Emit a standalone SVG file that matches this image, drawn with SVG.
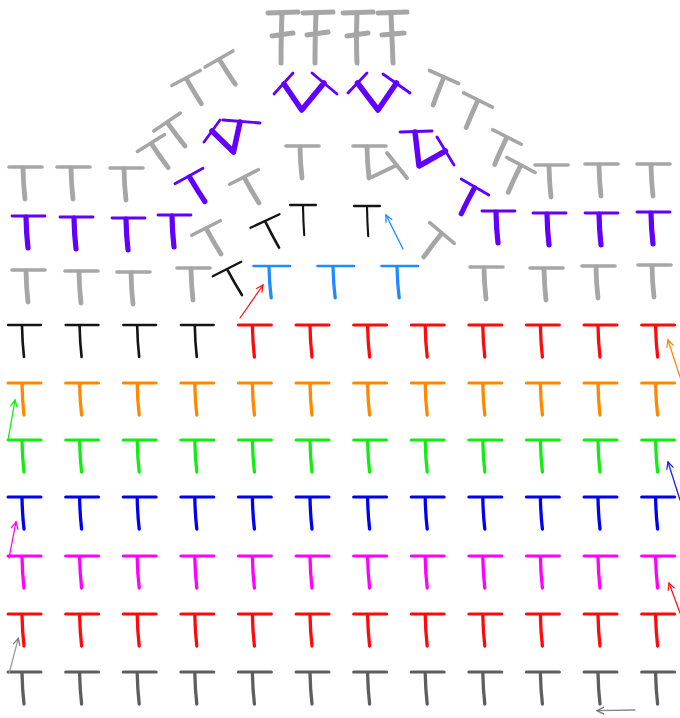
<svg xmlns="http://www.w3.org/2000/svg" xmlns:xlink="http://www.w3.org/1999/xlink" width="680" height="718" viewBox="0 0 680 718">
<style>
.b{fill:none;stroke-linecap:round;stroke-width:var(--bw,3)}
.s{fill:none;stroke-linecap:round;stroke-width:var(--sw,3.5)}
.dg{stroke:#5e5e5e;--bw:3;--sw:3.3}
.rd{stroke:#ff0a0a;--bw:3;--sw:3.3}
.mg{stroke:#ff00ff;--bw:3;--sw:3.3}
.bl{stroke:#0000f2;--bw:3;--sw:3.3}
.gr{stroke:#10ee10;--bw:3;--sw:3.3}
.or{stroke:#ff8800;--bw:3;--sw:3.3}
.bk{stroke:#141414;--bw:2.3;--sw:2.6}
.lg{stroke:#a6a6a6;--bw:3.6;--sw:4.8}
.lb{stroke:#1e8cff;--bw:2.6;--sw:3}
.pu{stroke:#6200ff;--bw:2.8;--sw:5.2}
.pb{fill:none;stroke:#6200ff;stroke-width:2.8;stroke-linecap:round}
.ps{fill:none;stroke:#6200ff;stroke-width:5.5;stroke-linecap:round;stroke-linejoin:round}
.gf{fill:none;stroke:#a6a6a6;stroke-width:5;stroke-linecap:round}
.ar{fill:none;stroke-width:1.3;stroke-linecap:round}
</style>
<defs>
<g id="T"><path class="b" d="M-14,0 L19,0"/><path class="s" d="M0,1 Q0.3,17 2,32"/></g>
<g id="S"><path class="b" d="M-16,0 L16,0"/><path class="s" d="M0,1 Q0.3,16 1.5,30"/></g>
<marker id="m-dg" markerWidth="12" markerHeight="12" refX="0" refY="0" viewBox="-9 -6 12 12" orient="auto" markerUnits="userSpaceOnUse"><path d="M-7,-3.5 L0,0 L-7,3.5" fill="none" stroke="#777" stroke-width="1.3"/></marker>
<marker id="m-rd" markerWidth="12" markerHeight="12" refX="0" refY="0" viewBox="-9 -6 12 12" orient="auto" markerUnits="userSpaceOnUse"><path d="M-7,-3.5 L0,0 L-7,3.5" fill="none" stroke="#ff1a1a" stroke-width="1.3"/></marker>
<marker id="m-mg" markerWidth="12" markerHeight="12" refX="0" refY="0" viewBox="-9 -6 12 12" orient="auto" markerUnits="userSpaceOnUse"><path d="M-7,-3.5 L0,0 L-7,3.5" fill="none" stroke="#ff00ff" stroke-width="1.3"/></marker>
<marker id="m-bl" markerWidth="12" markerHeight="12" refX="0" refY="0" viewBox="-9 -6 12 12" orient="auto" markerUnits="userSpaceOnUse"><path d="M-7,-3.5 L0,0 L-7,3.5" fill="none" stroke="#2020f0" stroke-width="1.3"/></marker>
<marker id="m-gr" markerWidth="12" markerHeight="12" refX="0" refY="0" viewBox="-9 -6 12 12" orient="auto" markerUnits="userSpaceOnUse"><path d="M-7,-3.5 L0,0 L-7,3.5" fill="none" stroke="#10ee10" stroke-width="1.3"/></marker>
<marker id="m-or" markerWidth="12" markerHeight="12" refX="0" refY="0" viewBox="-9 -6 12 12" orient="auto" markerUnits="userSpaceOnUse"><path d="M-7,-3.5 L0,0 L-7,3.5" fill="none" stroke="#ff8800" stroke-width="1.3"/></marker>
<marker id="m-lb" markerWidth="12" markerHeight="12" refX="0" refY="0" viewBox="-9 -6 12 12" orient="auto" markerUnits="userSpaceOnUse"><path d="M-7,-3.5 L0,0 L-7,3.5" fill="none" stroke="#1e8cff" stroke-width="1.3"/></marker>
</defs>
<rect width="680" height="718" fill="#fff"/>

<g id="row1">
<g id="r1c0"><use href="#T" class="dg" x="22" y="672"/></g>
<g id="r1c1"><use href="#T" class="dg" x="79.6" y="672"/></g>
<g id="r1c2"><use href="#T" class="dg" x="137.2" y="672"/></g>
<g id="r1c3"><use href="#T" class="dg" x="194.8" y="672"/></g>
<g id="r1c4"><use href="#T" class="dg" x="252.4" y="672"/></g>
<g id="r1c5"><use href="#T" class="dg" x="310" y="672"/></g>
<g id="r1c6"><use href="#T" class="dg" x="367.6" y="672"/></g>
<g id="r1c7"><use href="#T" class="dg" x="425.2" y="672"/></g>
<g id="r1c8"><use href="#T" class="dg" x="482.8" y="672"/></g>
<g id="r1c9"><use href="#T" class="dg" x="540.4" y="672"/></g>
<g id="r1c10"><use href="#T" class="dg" x="598" y="672"/></g>
<g id="r1c11"><use href="#T" class="dg" x="655.6" y="672"/></g>
</g>
<g id="row2">
<g id="r2c0"><use href="#T" class="rd" x="22" y="614"/></g>
<g id="r2c1"><use href="#T" class="rd" x="79.6" y="614"/></g>
<g id="r2c2"><use href="#T" class="rd" x="137.2" y="614"/></g>
<g id="r2c3"><use href="#T" class="rd" x="194.8" y="614"/></g>
<g id="r2c4"><use href="#T" class="rd" x="252.4" y="614"/></g>
<g id="r2c5"><use href="#T" class="rd" x="310" y="614"/></g>
<g id="r2c6"><use href="#T" class="rd" x="367.6" y="614"/></g>
<g id="r2c7"><use href="#T" class="rd" x="425.2" y="614"/></g>
<g id="r2c8"><use href="#T" class="rd" x="482.8" y="614"/></g>
<g id="r2c9"><use href="#T" class="rd" x="540.4" y="614"/></g>
<g id="r2c10"><use href="#T" class="rd" x="598" y="614"/></g>
<g id="r2c11"><use href="#T" class="rd" x="655.6" y="614"/></g>
</g>
<g id="row3">
<g id="r3c0"><use href="#T" class="mg" x="22" y="556"/></g>
<g id="r3c1"><use href="#T" class="mg" x="79.6" y="556"/></g>
<g id="r3c2"><use href="#T" class="mg" x="137.2" y="556"/></g>
<g id="r3c3"><use href="#T" class="mg" x="194.8" y="556"/></g>
<g id="r3c4"><use href="#T" class="mg" x="252.4" y="556"/></g>
<g id="r3c5"><use href="#T" class="mg" x="310" y="556"/></g>
<g id="r3c6"><use href="#T" class="mg" x="367.6" y="556"/></g>
<g id="r3c7"><use href="#T" class="mg" x="425.2" y="556"/></g>
<g id="r3c8"><use href="#T" class="mg" x="482.8" y="556"/></g>
<g id="r3c9"><use href="#T" class="mg" x="540.4" y="556"/></g>
<g id="r3c10"><use href="#T" class="mg" x="598" y="556"/></g>
<g id="r3c11"><use href="#T" class="mg" x="655.6" y="556"/></g>
</g>
<g id="row4">
<g id="r4c0"><use href="#T" class="bl" x="22" y="497"/></g>
<g id="r4c1"><use href="#T" class="bl" x="79.6" y="497"/></g>
<g id="r4c2"><use href="#T" class="bl" x="137.2" y="497"/></g>
<g id="r4c3"><use href="#T" class="bl" x="194.8" y="497"/></g>
<g id="r4c4"><use href="#T" class="bl" x="252.4" y="497"/></g>
<g id="r4c5"><use href="#T" class="bl" x="310" y="497"/></g>
<g id="r4c6"><use href="#T" class="bl" x="367.6" y="497"/></g>
<g id="r4c7"><use href="#T" class="bl" x="425.2" y="497"/></g>
<g id="r4c8"><use href="#T" class="bl" x="482.8" y="497"/></g>
<g id="r4c9"><use href="#T" class="bl" x="540.4" y="497"/></g>
<g id="r4c10"><use href="#T" class="bl" x="598" y="497"/></g>
<g id="r4c11"><use href="#T" class="bl" x="655.6" y="497"/></g>
</g>
<g id="row5">
<g id="r5c0"><use href="#T" class="gr" x="22" y="440"/></g>
<g id="r5c1"><use href="#T" class="gr" x="79.6" y="440"/></g>
<g id="r5c2"><use href="#T" class="gr" x="137.2" y="440"/></g>
<g id="r5c3"><use href="#T" class="gr" x="194.8" y="440"/></g>
<g id="r5c4"><use href="#T" class="gr" x="252.4" y="440"/></g>
<g id="r5c5"><use href="#T" class="gr" x="310" y="440"/></g>
<g id="r5c6"><use href="#T" class="gr" x="367.6" y="440"/></g>
<g id="r5c7"><use href="#T" class="gr" x="425.2" y="440"/></g>
<g id="r5c8"><use href="#T" class="gr" x="482.8" y="440"/></g>
<g id="r5c9"><use href="#T" class="gr" x="540.4" y="440"/></g>
<g id="r5c10"><use href="#T" class="gr" x="598" y="440"/></g>
<g id="r5c11"><use href="#T" class="gr" x="655.6" y="440"/></g>
</g>
<g id="row6">
<g id="r6c0"><use href="#T" class="or" x="22" y="383"/></g>
<g id="r6c1"><use href="#T" class="or" x="79.6" y="383"/></g>
<g id="r6c2"><use href="#T" class="or" x="137.2" y="383"/></g>
<g id="r6c3"><use href="#T" class="or" x="194.8" y="383"/></g>
<g id="r6c4"><use href="#T" class="or" x="252.4" y="383"/></g>
<g id="r6c5"><use href="#T" class="or" x="310" y="383"/></g>
<g id="r6c6"><use href="#T" class="or" x="367.6" y="383"/></g>
<g id="r6c7"><use href="#T" class="or" x="425.2" y="383"/></g>
<g id="r6c8"><use href="#T" class="or" x="482.8" y="383"/></g>
<g id="r6c9"><use href="#T" class="or" x="540.4" y="383"/></g>
<g id="r6c10"><use href="#T" class="or" x="598" y="383"/></g>
<g id="r6c11"><use href="#T" class="or" x="655.6" y="383"/></g>
</g>
<g id="row7">
<g id="r7c0"><use href="#T" class="bk" x="22" y="325"/></g>
<g id="r7c1"><use href="#T" class="bk" x="79.6" y="325"/></g>
<g id="r7c2"><use href="#T" class="bk" x="137.2" y="325"/></g>
<g id="r7c3"><use href="#T" class="bk" x="194.8" y="325"/></g>
<g id="r7c4"><use href="#T" class="rd" x="252.4" y="325"/></g>
<g id="r7c5"><use href="#T" class="rd" x="310" y="325"/></g>
<g id="r7c6"><use href="#T" class="rd" x="367.6" y="325"/></g>
<g id="r7c7"><use href="#T" class="rd" x="425.2" y="325"/></g>
<g id="r7c8"><use href="#T" class="rd" x="482.8" y="325"/></g>
<g id="r7c9"><use href="#T" class="rd" x="540.4" y="325"/></g>
<g id="r7c10"><use href="#T" class="rd" x="598" y="325"/></g>
<g id="r7c11"><use href="#T" class="rd" x="655.6" y="325"/></g>
</g>
<g id="row8">
<g id="r8c0"><use href="#T" class="lg" x="26" y="270"/></g>
<g id="r8c1"><use href="#T" class="lg" x="79" y="271"/></g>
<g id="r8c2"><use href="#T" class="lg" x="131" y="272"/></g>
<g id="r8c3"><use href="#T" class="lg" x="191" y="268"/></g>
<g id="r8t1"><use href="#S" class="bk" transform="translate(227,269) rotate(-27)"/></g>
<g id="r8b1"><use href="#T" class="lb" transform="translate(269,266) scale(1.1,1)"/></g>
<g id="r8b2"><use href="#T" class="lb" transform="translate(333,266) scale(1.1,1)"/></g>
<g id="r8b3"><use href="#T" class="lb" transform="translate(397,266) scale(1.1,1)"/></g>
<g id="r8c8"><use href="#T" class="lg" x="484" y="267"/></g>
<g id="r8c9"><use href="#T" class="lg" x="544" y="268"/></g>
<g id="r8c10"><use href="#T" class="lg" x="596" y="266"/></g>
<g id="r8c11"><use href="#T" class="lg" x="652" y="265"/></g>
</g>
<g id="row9">
<g id="r9c0"><use href="#T" class="pu" x="26" y="216"/></g>
<g id="r9c1"><use href="#T" class="pu" x="74" y="217"/></g>
<g id="r9c2"><use href="#T" class="pu" x="126" y="218"/></g>
<g id="r9c3"><use href="#T" class="pu" x="172" y="215"/></g>
<g id="r9t1"><use href="#S" class="lg" transform="translate(206,228) rotate(-27)"/></g>
<g id="r9t2"><use href="#S" class="bk" transform="translate(265,221) rotate(-25)"/></g>
<g id="r9k1"><use href="#S" class="bk" transform="translate(303,205) scale(0.82,1)"/></g>
<g id="r9k2"><use href="#S" class="bk" transform="translate(367,206) scale(0.82,1)"/></g>
<g id="r9t3"><use href="#S" class="lg" transform="translate(442,233) rotate(40)"/></g>
<g id="r9c8"><use href="#T" class="pu" x="496" y="211"/></g>
<g id="r9c9"><use href="#T" class="pu" x="547" y="213"/></g>
<g id="r9c10"><use href="#T" class="pu" x="599" y="213"/></g>
<g id="r9c11"><use href="#T" class="pu" x="651" y="212"/></g>
</g>
<g id="row10">
<g id="r10c0"><use href="#T" class="lg" x="23" y="167"/></g>
<g id="r10c1"><use href="#T" class="lg" x="71" y="167"/></g>
<g id="r10c2"><use href="#T" class="lg" x="124" y="168"/></g>
<g id="r10p1"><use href="#S" class="pu" transform="translate(189,176) rotate(-29)"/></g>
<g id="r10t1"><use href="#S" class="lg" transform="translate(244,177) rotate(-27)"/></g>
<g id="r10u1"><use href="#T" class="lg" x="300" y="146"/></g>
<g id="r10v1"><use href="#T" class="lg" x="367" y="146"/><path class="gf" style="stroke-width:4" d="M387,153 L407,178 M372,177 L397,165"/></g>
<g id="r10p2"><use href="#S" class="pu" transform="translate(475,187) rotate(30)"/></g>
<g id="r10c9"><use href="#T" class="lg" x="549" y="165"/></g>
<g id="r10c10"><use href="#T" class="lg" x="599" y="164"/></g>
<g id="r10c11"><use href="#T" class="lg" x="651" y="164"/></g>
</g>
<g id="row11">
<g id="r11t1"><use href="#S" class="lg" transform="translate(151,143) rotate(-32)"/></g>
<g id="r11t2"><use href="#S" class="lg" transform="translate(167,122) rotate(-34)"/></g>
<g id="r11v1"><path class="pb" d="M204,142 L220,120 M223,120 L260,123"/><path class="ps" d="M212,131 L233.5,152 L240,122"/></g>
<g id="r11v2"><path class="pb" d="M400,132 L432,131 M437,137 L454,165"/><path class="ps" d="M415,132 L419,166 L445.5,151"/></g>
<g id="r11t3"><use href="#S" class="lg" transform="translate(507,137) rotate(27)"/></g>
<g id="r11t4"><use href="#S" class="lg" transform="translate(521,165) rotate(28)"/></g>
</g>
<g id="row12">
<g id="r12t1"><use href="#S" class="lg" transform="translate(186,78) rotate(-28)"/></g>
<g id="r12t2"><use href="#S" class="lg" transform="translate(219,59) rotate(-30)"/></g>
<g id="r12v1"><path class="pb" d="M274,94 L293,73 M312,73 L337,94"/><path class="ps" d="M284,84 L301.7,110 L324,83"/></g>
<g id="r12v2"><path class="pb" d="M348,93 L367,73 M383,74 L410,93"/><path class="ps" d="M357.5,83 L378,110 L396.5,83"/></g>
<g id="r12t3"><use href="#S" class="lg" transform="translate(444,77) rotate(24)"/></g>
<g id="r12t4"><use href="#S" class="lg" transform="translate(478,100) rotate(26)"/></g>
</g>
<g id="row13">
<g id="r13f1"><path class="gf" d="M268,13 L298,12 M272,36 L293,33 M282,13 Q281,40 281,63"/></g>
<g id="r13f2"><path class="gf" d="M303,13 L333,12 M307,35 L328,32 M316,13 Q315,40 315,63"/></g>
<g id="r13f3"><path class="gf" d="M343,13 L373,12 M347,36 L368,33 M357,13 Q356,40 357,63"/></g>
<g id="r13f4"><path class="gf" d="M378,13 L407,12 M382,35 L404,33 M391,13 Q392,40 393,63"/></g>
</g>

<g id="connectors">
<path class="ar" stroke="#888" d="M635,710 L597,710.7" marker-end="url(#m-dg)"/>
<path class="ar" stroke="#999" d="M9.3,672.7 L18.3,638.3" marker-end="url(#m-dg)"/>
<path class="ar" stroke="#ff1a1a" d="M680,613 L669,583" marker-end="url(#m-rd)"/>
<path class="ar" stroke="#ff00ff" d="M9,558 L16,522" marker-end="url(#m-mg)"/>
<path class="ar" stroke="#2020f0" d="M680,500 L668,462" marker-end="url(#m-bl)"/>
<path class="ar" stroke="#10ee10" d="M8,440 L15,400" marker-end="url(#m-gr)"/>
<path class="ar" stroke="#ff8800" d="M680,377 L668,340" marker-end="url(#m-or)"/>
<path class="ar" stroke="#ff1a1a" d="M240,318 L263,285" marker-end="url(#m-rd)"/>
<path class="ar" stroke="#1e8cff" d="M403,249 L386,215" marker-end="url(#m-lb)"/>
</g>
</svg>
